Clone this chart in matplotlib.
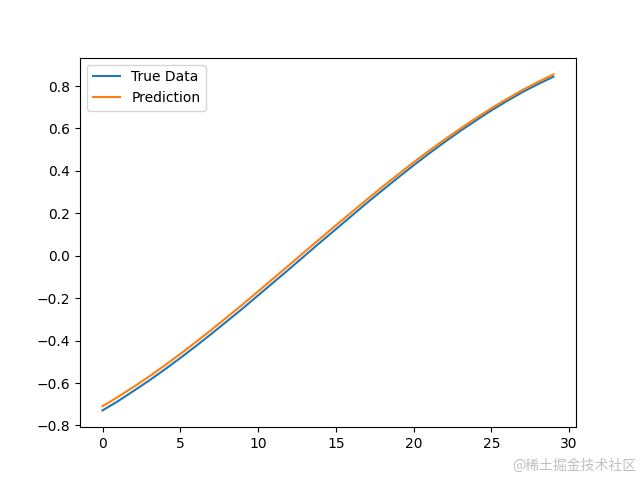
import matplotlib
matplotlib.use("Agg")
import matplotlib.pyplot as plt

steps = list(range(30))
true_data = [-0.729, -0.685, -0.637, -0.588, -0.536, -0.482, -0.426, -0.368, -0.309, -0.249,
             -0.187, -0.125, -0.063, 0.000, 0.063, 0.125, 0.187, 0.249, 0.309, 0.368,
             0.426, 0.482, 0.536, 0.588, 0.637, 0.685, 0.729, 0.771, 0.809, 0.844]
prediction = [-0.709, -0.665, -0.618, -0.569, -0.517, -0.463, -0.407, -0.349, -0.290, -0.230,
              -0.168, -0.106, -0.044, 0.019, 0.081, 0.143, 0.204, 0.265, 0.325, 0.383,
              0.440, 0.495, 0.548, 0.599, 0.648, 0.695, 0.739, 0.781, 0.819, 0.855]

fig, ax = plt.subplots(figsize=(6.4, 4.8), dpi=100)
ax.plot(steps, true_data, label="True Data")
ax.plot(steps, prediction, label="Prediction")
ax.legend(loc="upper left")
fig.text(0.995, 0.015, "@稀土掘金技术社区", ha="right", va="bottom", color="#c0c0c0",
         fontsize=10, family=["Noto Sans CJK SC", "DejaVu Sans"])
fig.savefig("out.png")
